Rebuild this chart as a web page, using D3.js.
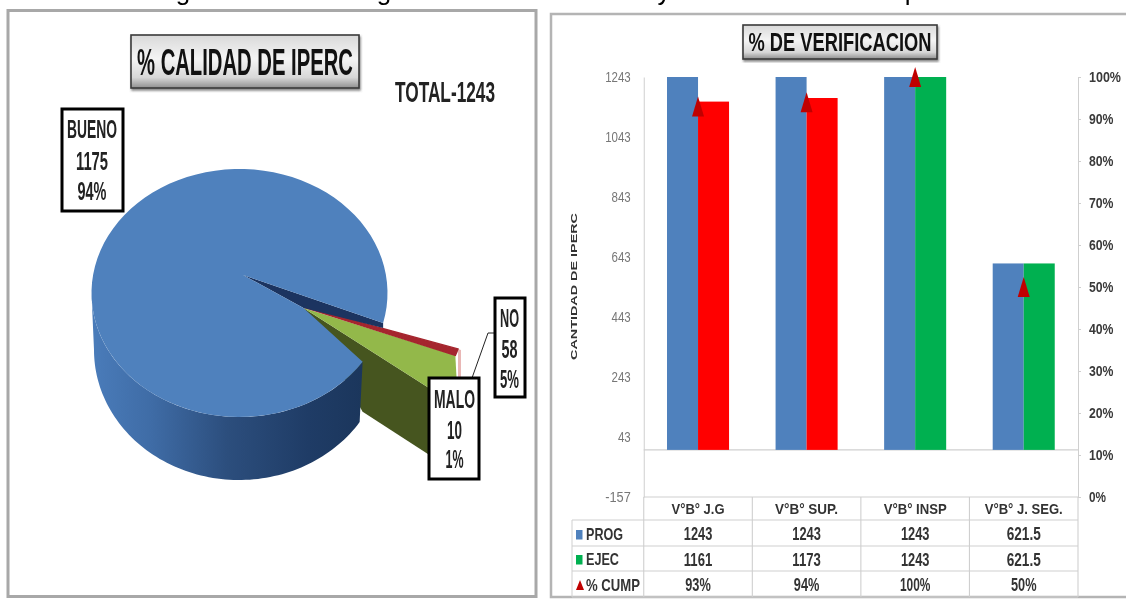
<!DOCTYPE html>
<html>
<head>
<meta charset="utf-8">
<script src="https://cdn.jsdelivr.net/npm/d3@7"></script>
<style>
html,body{margin:0;padding:0;background:#fff;overflow:hidden}
svg{display:block;filter:blur(0.75px)}
text{font-family:"Liberation Sans",Arial,sans-serif}
</style>
</head>
<body>
<svg id="c" width="1126" height="601"></svg>
<script>
// ---- data ----
const pieNames  = ["MALO","NO","BUENO"];
const pieValues = [10,58,1175];
const pieShares = ["1%","5%","94%"];
const pieTitle  = "% CALIDAD DE IPERC";
const pieTotal  = "TOTAL-1243";
const barTitle  = "% DE VERIFICACION";
const yTitle    = "CANTIDAD DE IPERC";
const categories = ["V°B° J.G","V°B° SUP.","V°B° INSP","V°B° J. SEG."];
const seriesNames = ["PROG","EJEC"];
const prog = [1243,1243,1243,621.5];
const ejec = [1161,1173,1243,621.5];
const cump = [0.93,0.94,1,0.5];
const progLabels = ["1243","1243","1243","621.5"];
const ejecLabels = ["1161","1173","1243","621.5"];
const cumpLabels = ["93%","94%","100%","50%"];
const leftTicks  = [-157,43,243,443,643,843,1043,1243];
const rightTicks = [0,.1,.2,.3,.4,.5,.6,.7,.8,.9,1];

const svg = d3.select("#c");
const defs = svg.append("defs");
const BLUE="#4f81bd", GREEN="#00b050", RED="#ff0000", MARK="#c00000", GRID="#cfcfcf";

function lin(id,stops,horizontal){
  const g=defs.append("linearGradient").attr("id",id).attr("x1",0).attr("y1",0)
    .attr("x2",horizontal?1:0).attr("y2",horizontal?0:1);
  stops.forEach(s=>g.append("stop").attr("offset",s[0]).attr("stop-color",s[1]));
}
lin("btn",[[0,"#d9d9d9"],[.45,"#f4f4f4"],[.8,"#d8d8d8"],[1,"#8f8f8f"]]);
lin("wall",[[0,"#4a7cba"],[.22,"#3f6ca6"],[.5,"#2c4e7d"],[.8,"#1f3c66"],[1,"#1b365c"]],true);
defs.append("filter").attr("id","sh").append("feDropShadow")
  .attr("dx",1).attr("dy",2).attr("stdDeviation",1.2).attr("flood-color","#555").attr("flood-opacity",.7);

// text squeezed to a measured width, baseline-positioned
function label(g,str,cx,base,size,width,opt={}){
  const t=g.append("text").attr("x",cx).attr("y",base).attr("font-size",size)
    .attr("text-anchor",opt.anchor||"middle").attr("font-weight",opt.weight||"bold")
    .attr("fill",opt.fill||"#1a1a1a").text(str);
  if(width) t.attr("textLength",width).attr("lengthAdjust","spacingAndGlyphs");
  return t;
}
function titleBox(g,x,y,w,h,str,size,tw,base){
  g.append("rect").attr("x",x).attr("y",y).attr("width",w).attr("height",h)
    .attr("fill","url(#btn)").attr("stroke","#3a3a3a").attr("stroke-width",1.6).attr("filter","url(#sh)");
  label(g,str,x+w/2,base,size,tw,{fill:"#111"});
}

// ---- clipped headline descenders along the top edge ----
[["g",183],["g",384],["y",664],["p",912]].forEach(d=>
  label(svg,d[0],d[1],0,26,null,{weight:"normal",fill:"#000"}));

// ---- frames ----
svg.append("rect").attr("x",8).attr("y",10.5).attr("width",528).attr("height",586)
  .attr("fill","#fff").attr("stroke","#a8a8a8").attr("stroke-width",3);
svg.append("rect").attr("x",551).attr("y",14).attr("width",600).attr("height",583)
  .attr("fill","#fff").attr("stroke","#b4b4b4").attr("stroke-width",2.5);

// ---- left: 3-D pie ----
const L=svg.append("g");
const deg=Math.PI/180;
const arcs=d3.pie().sort(null).value(d=>d).startAngle(104*deg).endAngle(464*deg)(pieValues);
const [aMalo,aNo,aBueno]=arcs;
const tilt=3.5*deg;               // exploded wedges are seen at a slightly steeper angle
const face={cx:239.5,cy:293,rx:148,ry:124}, low={cx:239,cy:350,rx:145,ry:130};
const wedge={cx:303.5,cy:308,rx:162,ry:136};
const apexBlue=[243,275], notch=[303.5,308], wallDepth=50, wedgeDepth=67;
const P=(e,a)=>[e.cx+e.rx*Math.sin(a),e.cy-e.ry*Math.cos(a)];
const sweep=(e,a0,a1,n=90)=>d3.range(n+1).map(i=>P(e,a0+(a1-a0)*i/n));
const line=d3.line();
const poly=(pts,fill)=>L.append("path").attr("d",line(pts)+"Z").attr("fill",fill);

// exploded wedges: side walls first
const wA=P(wedge,aMalo.startAngle+tilt), wN=P(wedge,aNo.startAngle+tilt), wE=P(wedge,aNo.endAngle+tilt);
const rimA=P(face,aBueno.startAngle);
// the wedge's outer edge runs straight down: carry its lower side out to that edge
const wB=[wA[0],wedge.cy+(wE[1]-wedge.cy)*(wA[0]-wedge.cx)/(wE[0]-wedge.cx)];
poly([notch,wB,[wB[0],wB[1]+wedgeDepth],[rimA[0],rimA[1]+wallDepth]],"#46551f");
poly([wA,[wA[0]+3,wA[1]+1],[wA[0]+3,wA[1]+30],[wA[0],wA[1]+30]],"#e9b7b5");
// NO slice (green)
poly([[wedge.cx,wedge.cy],wN,wB],"#93b84a");
// MALO slice (red)
L.append("path").attr("d",line([[wedge.cx,wedge.cy-1],...sweep(wedge,aMalo.startAngle+tilt,aMalo.endAngle+tilt,4)])+"Z")
  .attr("fill","#a5262e").attr("stroke","#a5262e").attr("stroke-width",1.5);

// BUENO side wall
poly([...sweep(face,aBueno.startAngle,270*deg),...sweep(low,270*deg,aBueno.startAngle)],"url(#wall)");
// navy inner face of the notch
const rimB=P(face,aBueno.endAngle);
poly([apexBlue,rimB,[rimB[0],rimB[1]+5],notch],"#1c3460");
// BUENO top face
poly([notch,...sweep(face,aBueno.startAngle,aBueno.endAngle),apexBlue],BLUE);

titleBox(L,131,35,228,53,pieTitle,37,216,75);
label(L,pieTotal,445,102,30,100,{fill:"#222"});

function pieBox(i,x,y,w,h,cx,bases,widths,size){
  L.append("rect").attr("x",x).attr("y",y).attr("width",w).attr("height",h)
    .attr("fill","#fff").attr("stroke","#000").attr("stroke-width",3);
  [pieNames[i],String(pieValues[i]),pieShares[i]].forEach((s,k)=>
    label(L,s,cx,bases[k],size,widths[k],{fill:"#222"}));
}
L.append("path").attr("d",line([[495,333],[488,333],[472,378]])).attr("fill","none")
  .attr("stroke","#222").attr("stroke-width",1);
pieBox(2,62,109,61,102,92,[138,170,200],[50,32,29],25);
pieBox(1,495,298,30,99,509.5,[327,358,388],[19,16,19],25);
pieBox(0,429,378,50,101,454.5,[408,439,468],[41,15,18],25);

// ---- right: bars ----
const R=svg.append("g");
const x0=d3.scaleBand().domain(categories).range([643.75,1078]);
const x1=d3.scaleBand().domain(seriesNames).range([0,x0.bandwidth()]).paddingOuter(.75);
const yL=d3.scaleLinear().domain([-157,1243]).range([497,77]);
const yR=d3.scaleLinear().domain([0,1]).range([497,77]);

titleBox(R,743,25,194,34,barTitle,25,183,51);

// axes
const axL=R.append("g").attr("transform","translate(643.75,0)")
  .call(d3.axisLeft(yL).tickValues(leftTicks).tickSize(0).tickPadding(13).tickFormat(String));
axL.select(".domain").attr("stroke",GRID);
axL.selectAll("text").attr("font-size",14).attr("fill","#777").attr("font-family","Liberation Sans")
  .attr("textLength",d=>String(d).length*6.4).attr("lengthAdjust","spacingAndGlyphs");
const axR=R.append("g").attr("transform","translate(1078,0)")
  .call(d3.axisRight(yR).tickValues(rightTicks).tickSize(3).tickPadding(8).tickFormat(d3.format(".0%")));
axR.select(".domain").attr("stroke",GRID);
axR.selectAll("line").attr("stroke",GRID);
axR.selectAll("text").attr("font-size",14).attr("font-weight","bold").attr("fill","#3a3a3a")
  .attr("font-family","Liberation Sans")
  .attr("textLength",d=>d===1?32:(d===0?17:24.5)).attr("lengthAdjust","spacingAndGlyphs");

// zero and bottom lines
[0,-157].forEach(v=>R.append("line").attr("x1",643.75).attr("x2",1078).attr("y1",yL(v)).attr("y2",yL(v))
  .attr("stroke",GRID).attr("stroke-width",1.2));

// bars
const bar=(vals,name,colour)=>R.append("g").selectAll("rect").data(vals).join("rect")
  .attr("x",(d,i)=>x0(categories[i])+x1(name)).attr("width",x1.bandwidth())
  .attr("y",d=>yL(d)).attr("height",d=>yL(0)-yL(d))
  .attr("fill",colour);
bar(prog,"PROG",BLUE);
bar(ejec,"EJEC",(d,i)=>i<2?RED:GREEN);

// markers
R.append("g").selectAll("path").data(cump).join("path")
  .attr("d",d3.line()([[0,-10],[6,10],[-6,10]])+"Z")
  .attr("transform",(d,i)=>`translate(${x0(categories[i])+x0.bandwidth()/2},${yR(d)})`)
  .attr("fill",MARK);

// y title
label(R,yTitle,0,0,9.5,147,{fill:"#333"}).attr("transform","translate(577,286.5) rotate(-90)");

// data table
const rows=[520,546,571,597];
rows.forEach(y=>R.append("line").attr("x1",572).attr("x2",1078).attr("y1",y).attr("y2",y)
  .attr("stroke",GRID).attr("stroke-width",1.1));
R.append("line").attr("x1",572).attr("x2",572).attr("y1",520).attr("y2",597).attr("stroke",GRID);
categories.map(c=>x0(c)).concat(1078).forEach(x=>
  R.append("line").attr("x1",x).attr("x2",x).attr("y1",497).attr("y2",597).attr("stroke",GRID).attr("stroke-width",1.1));

const mid=c=>x0(c)+x0.bandwidth()/2;
const catW=[53,63,63,78];
categories.forEach((c,i)=>{
  label(R,c,mid(c),514,15,catW[i],{fill:"#333"});
  label(R,progLabels[i],mid(c),540,18,i==3?34:28.5,{fill:"#333"});
  label(R,ejecLabels[i],mid(c),566,18,i==3?34:28.5,{fill:"#333"});
  label(R,cumpLabels[i],mid(c),591,18,i==2?30.5:25.5,{fill:"#333"});
});
const rowLabels=[["PROG",540,37,BLUE],["EJEC",565,33,GREEN],["% CUMP",591,54,MARK]];
rowLabels.forEach((r,i)=>{
  label(R,r[0],586,r[1],16.5,r[2],{anchor:"start",fill:"#333"});
  if(i<2) R.append("rect").attr("x",576).attr("y",r[1]-10).attr("width",6.5).attr("height",9.5).attr("fill",r[3]);
  else R.append("path").attr("d",d3.line()([[580,r[1]-11],[584,r[1]-1],[576,r[1]-1]])+"Z").attr("fill",r[3]);
});
</script>
</body>
</html>
